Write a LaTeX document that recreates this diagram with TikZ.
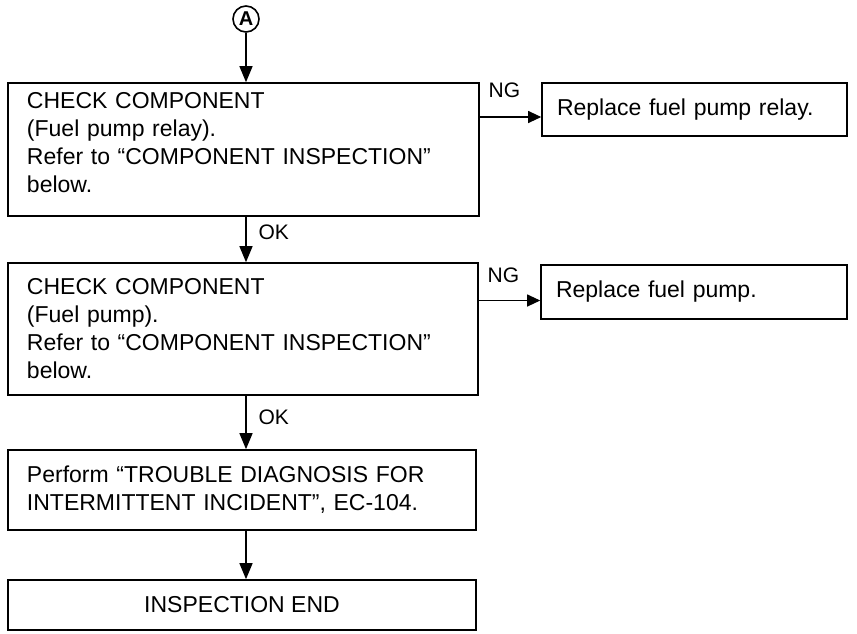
\documentclass[tikz,border=0pt]{standalone}
\usepackage{fontspec}
\setmainfont{Liberation Sans}
\usetikzlibrary{arrows.meta}
\begin{document}
\begin{tikzpicture}[x=1pt,y=-1pt,
		>={Triangle[length=16pt,width=13pt]},
		box/.style={draw,line width=1.6pt,inner xsep=19pt,align=left,
			font=\fontsize{23}{28}\selectfont},
		fixbox/.style={draw,line width=1.6pt,inner xsep=15pt,align=left,
			font=\fontsize{23}{28}\selectfont},
		flow/.style={->,line width=1.3pt},
		ngflow/.style={-{Triangle[length=13pt,width=12pt]},line width=1.1pt},
		lbl/.style={font=\fontsize{21}{24}\selectfont,inner sep=0pt}]
			\useasboundingbox (0,0) rectangle (857,633);
			%Diem A
			\node[circle,draw,line width=1.6pt,minimum size=26pt,inner sep=0pt,
				font=\bfseries\fontsize{20}{20}\selectfont] (A) at (246,19) {A};
			%Khung 1
			\node[box,minimum width=471pt,minimum height=133pt,text width=433pt] (comp1) at (243.5,149.5)
				{CHECK COMPONENT\\(Fuel pump relay).\\Refer to “COMPONENT INSPECTION”\\below.\\[-14pt]\mbox{}};
			%Khung 1 phai
			\node[fixbox,minimum width=305pt,minimum height=53pt,text width=275pt] (relay) at (694.5,109.5)
				{Replace fuel pump relay.};
			%Khung 2
			\node[box,minimum width=470pt,minimum height=132pt,text width=432pt] (comp2) at (243,329)
				{CHECK COMPONENT\\(Fuel pump).\\Refer to “COMPONENT INSPECTION”\\below.};
			%Khung 2 phai
			\node[fixbox,minimum width=306pt,minimum height=54pt,text width=276pt] (pump) at (694,292)
				{Replace fuel pump.};
			%Khung 3
			\node[box,minimum width=468pt,minimum height=80pt,text width=430pt] (diag) at (242,490)
				{Perform “TROUBLE DIAGNOSIS FOR\\INTERMITTENT INCIDENT”, EC-104.};
			%Khung 4
			\node[box,minimum width=468pt,minimum height=50pt,align=center] (endbox) at (242,605)
				{INSPECTION END};
			%Mui ten doc
			\draw[flow] (A) -- (A |- comp1.north);
			\draw[flow] (comp1.south -| A) -- (comp2.north -| A)
				node[lbl,pos=0.35,right=12pt]{OK};
			\draw[flow] (comp2.south -| A) -- (diag.north -| A)
				node[lbl,pos=0.4,right=12pt]{OK};
			\draw[flow] (diag.south -| A) -- (endbox.north -| A);
			%Mui ten NG
			\draw[ngflow] ([yshift=-7.5pt]relay.west -| comp1.east) -- ([yshift=-7.5pt]relay.west)
				node[lbl,pos=0.4,above=19pt]{NG};
			\draw[ngflow] ([yshift=-8.5pt]pump.west -| comp2.east) -- ([yshift=-8.5pt]pump.west)
				node[lbl,pos=0.4,above=17pt]{NG};
		\end{tikzpicture}
\end{document}
